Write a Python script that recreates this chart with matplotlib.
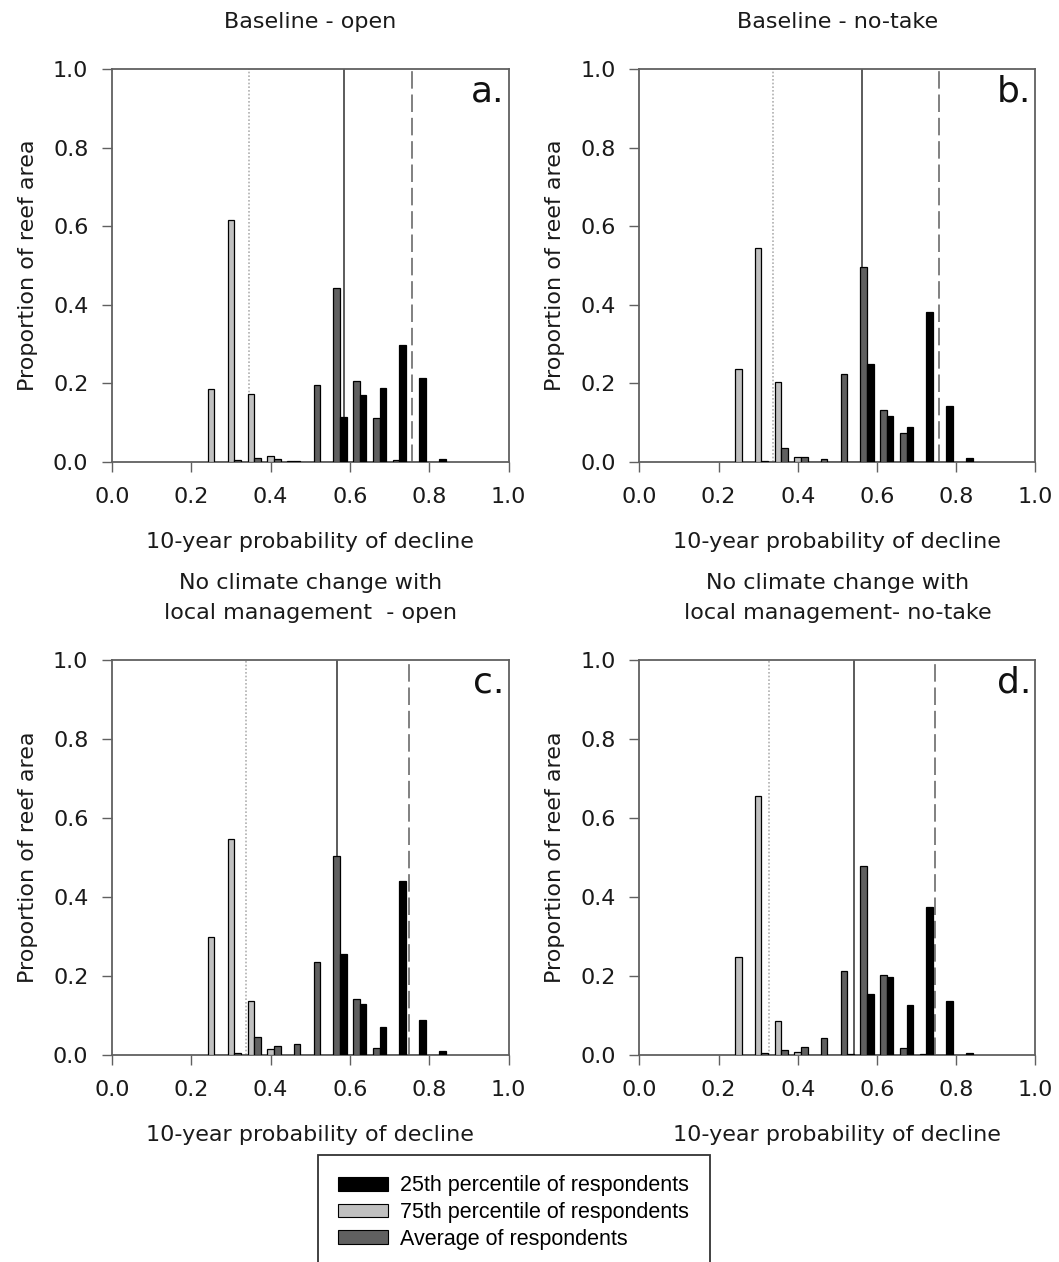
import numpy as np
import matplotlib
matplotlib.use('Agg')
import matplotlib.pyplot as plt
from matplotlib.patches import Patch

plt.rcParams['font.family'] = ['DejaVu Sans']

# bin positions (probability of decline)
bins = [0.25, 0.30, 0.35, 0.40, 0.45, 0.50, 0.55, 0.60, 0.65, 0.70, 0.75, 0.80]

titulos = ['Baseline - open', 'Baseline - no-take',
           'No climate change with\nlocal management  - open',
           'No climate change with\nlocal management- no-take']
letras = ['a.', 'b.', 'c.', 'd.']

# 75th percentile of respondents
p75_a = [0.186, 0.616, 0.174, 0.015, 0.002, 0, 0, 0, 0, 0, 0, 0]
p75_b = [0.236, 0.545, 0.203, 0.014, 0, 0, 0, 0, 0, 0, 0, 0]
p75_c = [0.298, 0.546, 0.138, 0.016, 0, 0, 0, 0, 0, 0, 0, 0]
p75_d = [0.247, 0.657, 0.087, 0.007, 0, 0, 0, 0, 0, 0, 0, 0]

# average of respondents
prom_a = [0, 0.004, 0.011, 0.007, 0.003, 0.197, 0.442, 0.205, 0.112, 0.006, 0, 0]
prom_b = [0, 0.003, 0.036, 0.014, 0.007, 0.223, 0.496, 0.133, 0.075, 0, 0, 0]
prom_c = [0, 0.006, 0.046, 0.022, 0.027, 0.236, 0.504, 0.142, 0.019, 0, 0, 0]
prom_d = [0, 0.004, 0.013, 0.020, 0.043, 0.212, 0.479, 0.203, 0.019, 0.002, 0, 0]

# 25th percentile of respondents
p25_a = [0, 0, 0, 0, 0, 0, 0.115, 0.170, 0.189, 0.297, 0.214, 0.008]
p25_b = [0, 0, 0, 0, 0, 0, 0.250, 0.118, 0.088, 0.383, 0.142, 0.009]
p25_c = [0, 0, 0, 0, 0, 0, 0.257, 0.129, 0.072, 0.440, 0.089, 0.011]
p25_d = [0, 0, 0, 0, 0, 0.002, 0.154, 0.198, 0.127, 0.374, 0.138, 0.006]

# mean probability lines: 75th (dotted), average (solid), 25th (dashed)
lineas_p75 = [0.3455, 0.338, 0.337, 0.328]
lineas_prom = [0.586, 0.563, 0.567, 0.542]
lineas_p25 = [0.757, 0.757, 0.749, 0.747]

p75 = [p75_a, p75_b, p75_c, p75_d]
prom = [prom_a, prom_b, prom_c, prom_d]
p25 = [p25_a, p25_b, p25_c, p25_d]

col_p25 = '#000000'
col_p75 = '#c0c0c0'
col_prom = '#606060'
gris = '#606060'

fig = plt.figure(figsize=(10.59, 12.62), dpi=100)

posiciones = [
    [0.1058, 0.6339, 0.3744, 0.3114],
    [0.6037, 0.6339, 0.3740, 0.3114],
    [0.1058, 0.1640, 0.3744, 0.3130],
    [0.6037, 0.1640, 0.3740, 0.3130],
]

x = np.array(bins)
w = 0.05 / 3

for i in range(4):
    ax = fig.add_axes(posiciones[i])
    ax.bar(x, p75[i], width=w, align='center', color=col_p75,
           edgecolor='black', linewidth=0.9, zorder=3)
    ax.bar(x + w, prom[i], width=w, align='center', color=col_prom,
           edgecolor='black', linewidth=0.9, zorder=3)
    ax.bar(x + 2 * w, p25[i], width=w, align='center', color=col_p25,
           edgecolor='black', linewidth=0.9, zorder=3)

    ax.axvline(lineas_p75[i], color='#b0b0b0', linestyle=(0, (1, 1.2)), linewidth=1.2, zorder=2)
    ax.axvline(lineas_prom[i], color='#404040', linestyle='-', linewidth=1.2, zorder=2)
    ax.axvline(lineas_p25[i], color='#808080', linestyle=(0, (9, 3)), linewidth=1.4, zorder=2)

    ax.set_xlim(0, 1)
    ax.set_ylim(0, 1)
    ticks = [0.0, 0.2, 0.4, 0.6, 0.8, 1.0]
    ax.set_xticks(ticks)
    ax.set_yticks(ticks)
    ax.set_xticklabels(['%.1f' % t for t in ticks])
    ax.set_yticklabels(['%.1f' % t for t in ticks])
    ax.tick_params(direction='out', length=7, width=1, color=gris,
                   labelsize=16, pad=10, labelcolor='#1a1a1a')
    ax.tick_params(axis='x', pad=11)
    for s in ax.spines.values():
        s.set_color(gris)
        s.set_linewidth(1.3)

    ax.set_xlabel('10-year probability of decline', fontsize=16, labelpad=18, color='#1a1a1a')
    ax.set_ylabel('Proportion of reef area', fontsize=16, labelpad=11, color='#1a1a1a')

    ax.annotate(titulos[i], xy=(0.5, 1), xycoords='axes fraction',
                xytext=(0, 27), textcoords='offset points',
                ha='center', va='bottom', fontsize=16, linespacing=1.6,
                color='#1a1a1a')
    ax.text(0.99, 0.985, letras[i], transform=ax.transAxes, ha='right', va='top',
            fontsize=26, color='#111111')

handles = [
    Patch(facecolor=col_p25, edgecolor='black', linewidth=0.8, label='25th percentile of respondents'),
    Patch(facecolor=col_p75, edgecolor='black', linewidth=0.8, label='75th percentile of respondents'),
    Patch(facecolor=col_prom, edgecolor='black', linewidth=0.8, label='Average of respondents'),
]
leg = fig.legend(handles=handles, loc='upper center', bbox_to_anchor=(0.485, 1 - 1155 / 1262),
                 prop={'family': 'Liberation Sans', 'size': 15.5},
                 frameon=True, fancybox=False, borderpad=0.95, handlelength=2.33,
                 handleheight=0.6, handletextpad=0.56, labelspacing=0.26,
                 borderaxespad=0)
leg.get_frame().set_edgecolor('black')
leg.get_frame().set_linewidth(1.3)

plt.savefig('out.png', dpi=100)
